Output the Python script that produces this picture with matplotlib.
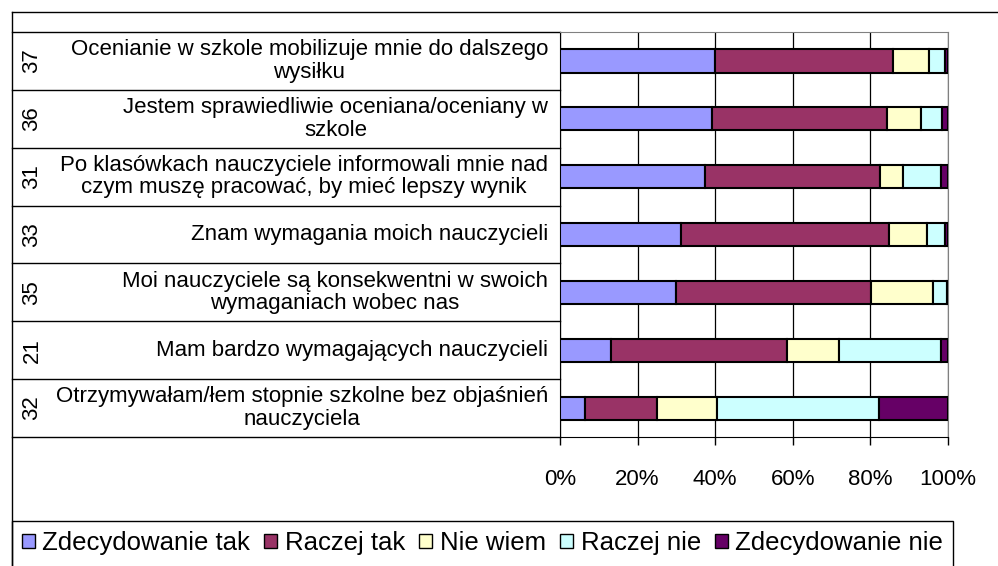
import numpy as np
import matplotlib
matplotlib.use("Agg")
import matplotlib.pyplot as plt
from matplotlib.lines import Line2D
from matplotlib.patches import Rectangle, Patch

plt.rcParams['font.family'] = ['Liberation Sans', 'DejaVu Sans']

# --- data (top to bottom), percent of answers ---
numbers = ["37", "36", "31", "33", "35", "21", "32"]
questions = [
    "Ocenianie w szkole mobilizuje mnie do dalszego\nwysiłku",
    "Jestem sprawiedliwie oceniana/oceniany w\nszkole",
    "Po klasówkach nauczyciele informowali mnie nad\nczym muszę pracować, by mieć lepszy wynik",
    "Znam wymagania moich nauczycieli",
    "Moi nauczyciele są konsekwentni w swoich\nwymaganiach wobec nas",
    "Mam bardzo wymagających nauczycieli",
    "Otrzymywałam/łem stopnie szkolne bez objaśnień\nnauczyciela",
]
answers = ["Zdecydowanie tak", "Raczej tak", "Nie wiem", "Raczej nie", "Zdecydowanie nie"]
zdecydowanie_tak = [40.0, 39.3, 37.4, 31.1, 29.8, 13.2, 6.5]
raczej_tak = [45.8, 44.9, 45.2, 53.6, 50.3, 45.3, 18.6]
nie_wiem = [9.2, 8.8, 5.7, 9.8, 16.0, 13.3, 15.3]
raczej_nie = [4.1, 5.5, 9.8, 4.7, 3.6, 26.3, 41.8]
zdecydowanie_nie = [1.0, 1.5, 1.9, 0.8, 0.3, 1.9, 17.8]
colors = ["#9999FF", "#993366", "#FFFFCC", "#CCFFFF", "#660066"]
xticks = [0, 20, 40, 60, 80, 100]

# --- layout in pixels ---
W, H = 998, 566
AX_L, AX_R, AX_T, AX_B = 560, 948, 32, 437

fig = plt.figure(figsize=(W / 100, H / 100), dpi=100)
ax = fig.add_axes([AX_L / W, 1 - AX_B / H, (AX_R - AX_L) / W, (AX_B - AX_T) / H])


def ax_x(px):
    return (px - AX_L) / (AX_R - AX_L)


series = [zdecydowanie_tak, raczej_tak, nie_wiem, raczej_nie, zdecydowanie_nie]
y = np.arange(len(numbers))
left = np.zeros(len(numbers))
for vals, col, name in zip(series, colors, answers):
    vals = np.array(vals)
    ax.barh(y, vals, left=left, height=0.4, color=col, edgecolor="black",
            linewidth=1.5, label=name, zorder=3)
    left += vals

ax.set_xlim(0, 100)
ax.set_ylim(len(numbers) - 0.5, -0.5)
ax.set_yticks([])
ax.set_xticks(xticks)
ax.set_xticklabels([f"{t}%" for t in xticks], fontsize=16)
ax.tick_params(axis="x", direction="out", length=6, width=1, pad=17)
ax.grid(axis="x", color="black", linewidth=0.9, zorder=0)
for s in ["top", "right"]:
    ax.spines[s].set_color("#808080")
for s in ["left", "bottom"]:
    ax.spines[s].set_color("black")

# category table on the left
tr = ax.get_yaxis_transform()
for b in np.arange(-0.5, len(numbers), 1.0):
    ax.plot([ax_x(12), 0], [b, b], color="black", lw=1, transform=tr, clip_on=False)
for i, (n, q) in enumerate(zip(numbers, questions)):
    ax.text(ax_x(548), i, q, transform=tr, ha="right", va="center",
            multialignment="center", fontsize=16, linespacing=1.1)
    ax.text(ax_x(32), i, n, transform=tr, ha="center", va="center",
            rotation=90, fontsize=16)

# outer chart border (top and left visible)
fig.add_artist(Line2D([12 / W, 1], [1 - 12 / H, 1 - 12 / H], color="black", lw=1))
fig.add_artist(Line2D([12 / W, 12 / W], [0, 1 - 12 / H], color="black", lw=1))

# legend box
fig.add_artist(Rectangle((12 / W, -0.05), (953 - 12) / W, 0.05 + (566 - 521) / H,
                         transform=fig.transFigure, fill=False, edgecolor="black", lw=1))
handles = [Patch(facecolor=c, edgecolor="black", linewidth=1) for c in colors]
fig.legend(handles, answers, loc="center", bbox_to_anchor=((12 + 953) / 2 / W, 1 - 543 / H),
           ncol=5, frameon=False, fontsize=18.5, handlelength=0.5, handleheight=0.5,
           handletextpad=0.3, columnspacing=0.55, borderpad=0, borderaxespad=0)

fig.savefig("out.png", dpi=100)
